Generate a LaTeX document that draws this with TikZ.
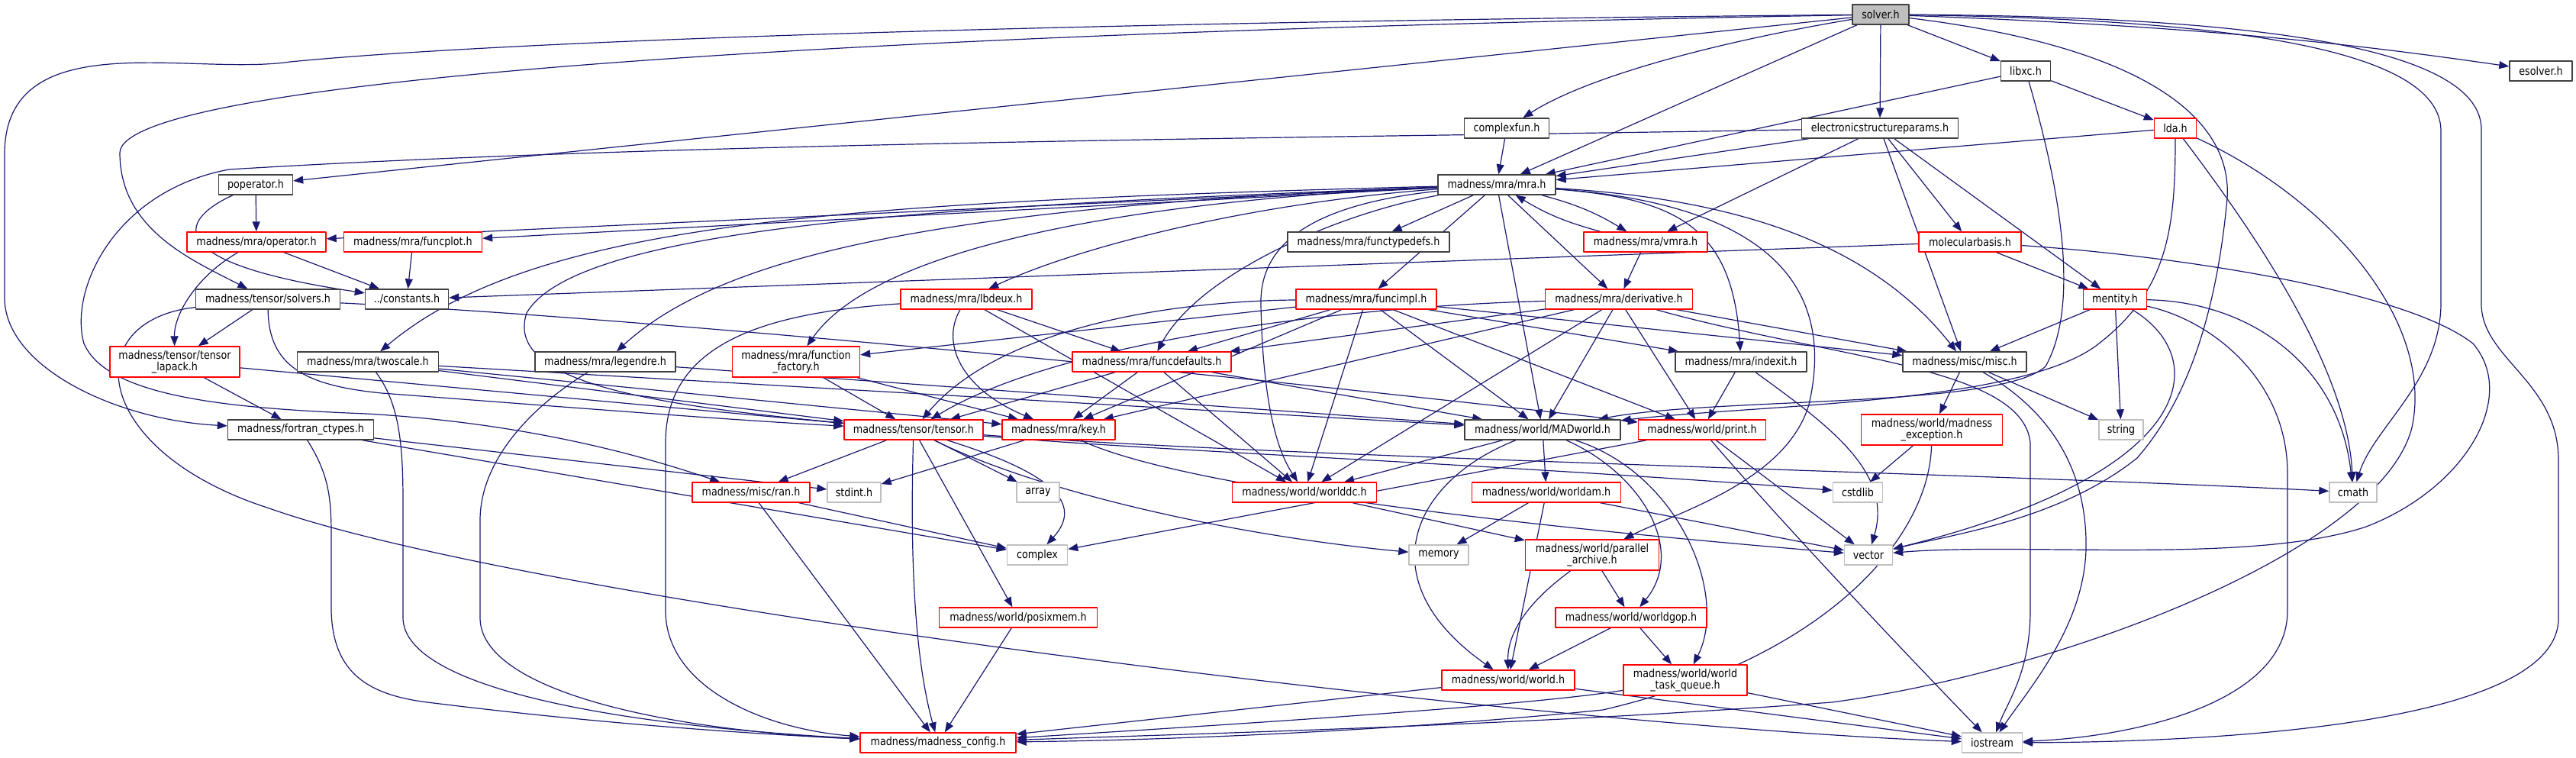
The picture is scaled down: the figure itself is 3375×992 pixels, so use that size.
\documentclass[tikz,border=0pt]{standalone}
\usepackage{fontspec}
\usepackage{tikz}
\usetikzlibrary{arrows.meta,backgrounds}
\newfontfamily\depfont{DejaVu Sans}[FakeStretch=0.86]
\definecolor{depedge}{HTML}{191970}
\definecolor{depred}{HTML}{FF0000}
\definecolor{depgray}{HTML}{BFBFBF}
\definecolor{depdark}{HTML}{404040}
\tikzset{
  every picture/.append style={line cap=round,line join=round},
  dep box/.style={draw=depdark,fill=white,line width=0.7pt,inner xsep=2pt,inner ysep=1pt,minimum height=13pt,font=\depfont\fontsize{7.4}{7.6}\selectfont,text=black},
  dep red/.style={dep box,draw=depred},
  dep sys/.style={dep box,draw=depgray},
  dep root/.style={dep box,fill=depgray},
  dep two/.style={align=center,minimum height=20pt},
  dep edge/.style={depedge,line width=0.6pt,-{Triangle[length=6.5pt,width=5pt]}}
}

\begin{document}
\begin{tikzpicture}[x=0.5pt,y=-0.5pt]
\useasboundingbox (0,0) rectangle (3375,992);
\node[dep root,minimum width=37pt] (solver) at (2464,19) {solver.h};
\node[dep box,minimum width=32.5pt] (libxc) at (2654,93) {libxc.h};
\node[dep box,minimum width=41pt] (esolver) at (3329,93) {esolver.h};
\node[dep box,minimum width=55.5pt] (complexfun) at (1974,168) {complexfun.h};
\node[dep box,minimum width=102.5pt] (esparams) at (2463,168) {electronicstructureparams.h};
\node[dep red,minimum width=27.5pt] (lda) at (2850,168) {lda.h};
\node[dep box,minimum width=48.5pt] (poperator) at (335,242) {poperator.h};
\node[dep box,minimum width=77pt] (mra) at (1961,242) {madness/mra/mra.h};
\node[dep red,minimum width=91pt] (operator) at (336,317) {madness/mra/operator.h};
\node[dep red,minimum width=90.5pt] (funcplot) at (541,317) {madness/mra/funcplot.h};
\node[dep box,minimum width=106pt] (functypedefs) at (1793,317) {madness/mra/functypedefs.h};
\node[dep red,minimum width=81pt] (vmra) at (2156,317) {madness/mra/vmra.h};
\node[dep red,minimum width=67pt] (molbasis) at (2581,317) {molecularbasis.h};
\node[dep box,minimum width=94.5pt] (solvers) at (351,392) {madness/tensor/solvers.h};
\node[dep box,minimum width=54.5pt] (constants) at (533,392) {../constants.h};
\node[dep red,minimum width=86pt] (lbdeux) at (1266,392) {madness/mra/lbdeux.h};
\node[dep red,minimum width=92pt] (funcimpl) at (1790,392) {madness/mra/funcimpl.h};
\node[dep red,minimum width=96.5pt] (derivative) at (2121,392) {madness/mra/derivative.h};
\node[dep red,minimum width=41.5pt] (mentity) at (2771,392) {mentity.h};
\node[dep red,dep two,minimum width=85pt] (tensorlapack) at (229,474) {madness/tensor/tensor\\\_lapack.h};
\node[dep box,minimum width=92.5pt] (twoscale) at (482,474) {madness/mra/twoscale.h};
\node[dep box,minimum width=92pt] (legendre) at (793,474) {madness/mra/legendre.h};
\node[dep red,dep two,minimum width=83.5pt] (funcfactory) at (1043,474) {madness/mra/function\\\_factory.h};
\node[dep red,minimum width=104pt] (funcdefaults) at (1509,474) {madness/mra/funcdefaults.h};
\node[dep box,minimum width=86pt] (indexit) at (2281,474) {madness/mra/indexit.h};
\node[dep box,minimum width=81pt] (misc) at (2574,474) {madness/misc/misc.h};
\node[dep box,minimum width=95.5pt] (fortran) at (394,563) {madness/fortran\_ctypes.h};
\node[dep red,minimum width=91pt] (tensor) at (1197,563) {madness/tensor/tensor.h};
\node[dep red,minimum width=74pt] (key) at (1387,563) {madness/mra/key.h};
\node[dep box,minimum width=102pt] (madworld) at (2021,563) {madness/world/MADworld.h};
\node[dep red,minimum width=83.5pt] (print) at (2230,563) {madness/world/print.h};
\node[dep red,dep two,minimum width=92.5pt] (exception) at (2531,563) {madness/world/madness\\\_exception.h};
\node[dep sys,minimum width=29pt] (string) at (2779,563) {string};
\node[dep red,minimum width=77pt] (ran) at (984,645) {madness/misc/ran.h};
\node[dep sys,minimum width=35pt] (stdint) at (1119,645) {stdint.h};
\node[dep sys,minimum width=28pt] (array) at (1360,645) {array};
\node[dep red,minimum width=94.5pt] (worlddc) at (1709,645) {madness/world/worlddc.h};
\node[dep red,minimum width=97.5pt] (worldam) at (2026,645) {madness/world/worldam.h};
\node[dep sys,minimum width=32.5pt] (cstdlib) at (2434,645) {cstdlib};
\node[dep sys,minimum width=31pt] (cmath) at (3083,645) {cmath};
\node[dep sys,minimum width=39.5pt] (complex) at (1359,727) {complex};
\node[dep sys,minimum width=39pt] (memory) at (1885,727) {memory};
\node[dep red,dep two,minimum width=87.5pt] (parallel) at (2086,727) {madness/world/parallel\\\_archive.h};
\node[dep sys,minimum width=31.5pt] (vector) at (2448,727) {vector};
\node[dep red,minimum width=103.5pt] (posixmem) at (1334,809) {madness/world/posixmem.h};
\node[dep red,minimum width=99pt] (worldgop) at (2137,809) {madness/world/worldgop.h};
\node[dep red,minimum width=87pt] (world) at (1976,891) {madness/world/world.h};
\node[dep red,dep two,minimum width=81pt] (taskqueue) at (2208,891) {madness/world/world\\\_task\_queue.h};
\node[dep red,minimum width=102pt] (config) at (1229,973) {madness/madness\_config.h};
\node[dep sys,minimum width=39.5pt] (iostream) at (2610,973) {iostream};

\begin{scope}[on background layer]
% solver.h
\draw[dep edge] (solver) -- (libxc);
\draw[dep edge] (solver) .. controls (2900,35) and (3100,60) .. (esolver);
\draw[dep edge] (solver) .. controls (2250,55) and (2080,100) .. (complexfun);
\draw[dep edge] (solver) -- (esparams);
\draw[dep edge] (solver) -- (mra);
\draw[dep edge] (solver) -- (poperator);
\draw[dep edge] (solver) .. controls (1000,45) and (160,110) .. (157,200) .. controls (157,300) and (250,340) .. (solvers);
\draw[dep edge] (solver) .. controls (1500,28) and (700,50) .. (380,81) .. controls (250,100) and (8,30) .. (6,200) -- (6,390) .. controls (6,480) and (150,550) .. (fortran);
\draw[dep edge] (solver) .. controls (2900,25) and (3195,60) .. (3198,170) -- (3198,400) .. controls (3196,500) and (3110,560) .. (cmath);
\draw[dep edge] (solver) .. controls (3050,22) and (3251,80) .. (3251,170) -- (3251,400) .. controls (3253,470) and (3350,500) .. (3352,600) -- (3352,810) .. controls (3352,950) and (2900,972) .. (iostream);
\draw[dep edge] (solver) .. controls (2800,60) and (2925,150) .. (2918,260) .. controls (2905,400) and (2870,520) .. (2800,600) .. controls (2700,680) and (2560,700) .. (vector);
% libxc.h, lda.h
\draw[dep edge] (libxc) -- (lda);
\draw[dep edge] (libxc) -- (mra);
\draw[dep edge] (libxc) .. controls (2700,250) and (2725,400) .. (2680,480) .. controls (2620,535) and (2250,520) .. (madworld);
\draw[dep edge] (lda) -- (mra);
\draw[dep edge] (lda) .. controls (2850,300) and (2840,380) .. (2750,450) .. controls (2650,530) and (2300,530) .. (madworld);
\draw[dep edge] (lda) .. controls (2950,300) and (3075,480) .. (cmath);
\draw[dep edge] (lda) .. controls (3050,260) and (3190,420) .. (3160,560) .. controls (3120,720) and (2700,880) .. (2400,920) .. controls (2000,950) and (1600,960) .. (config);
% electronicstructureparams.h
\draw[dep edge] (esparams) -- (mra);
\draw[dep edge] (esparams) -- (vmra);
\draw[dep edge] (esparams) -- (molbasis);
\draw[dep edge] (esparams) -- (mentity);
\draw[dep edge] (esparams) -- (misc);
\draw[dep edge] (esparams) .. controls (1800,180) and (900,185) .. (300,222) .. controls (150,250) and (90,380) .. (110,450) .. controls (140,520) and (300,535) .. (480,542) .. controls (700,555) and (850,600) .. (ran);
\draw[dep edge] (complexfun) -- (mra);
\draw[dep edge] (poperator) -- (operator);
\draw[dep edge] (poperator) .. controls (230,290) and (215,345) .. (constants);
% mra.h
\draw[dep edge] (mra) -- (operator);
\draw[dep edge] (mra) -- (funcplot);
\draw[dep edge] (mra) -- (functypedefs);
\draw[dep edge] (mra) to[bend left=8] (vmra);
\draw[dep edge] (vmra) to[bend left=8] (mra);
\draw[dep edge] (mra) .. controls (1100,265) and (700,290) .. (twoscale);
\draw[dep edge] (mra) .. controls (1250,270) and (950,330) .. (legendre);
\draw[dep edge] (mra) .. controls (1650,265) and (1420,320) .. (lbdeux);
\draw[dep edge] (mra) .. controls (1500,262) and (1150,320) .. (funcfactory);
\draw[dep edge] (mra) .. controls (1750,280) and (1570,360) .. (funcdefaults);
\draw[dep edge] (mra) -- (funcimpl);
\draw[dep edge] (mra) -- (derivative);
\draw[dep edge] (mra) .. controls (2200,260) and (2270,300) .. (indexit);
\draw[dep edge] (mra) .. controls (2300,262) and (2460,330) .. (misc);
\draw[dep edge] (mra) .. controls (1300,268) and (760,290) .. (690,410) .. controls (660,500) and (850,530) .. (tensor);
\draw[dep edge] (mra) -- (madworld);
\draw[dep edge] (mra) .. controls (1700,270) and (1650,330) .. (1652,400) .. controls (1655,550) and (1680,600) .. (worlddc);
\draw[dep edge] (mra) .. controls (2350,270) and (2400,400) .. (2370,530) .. controls (2340,630) and (2200,670) .. (parallel);
\draw[dep edge] (vmra) -- (derivative);
% molecularbasis.h
\draw[dep edge] (molbasis) -- (mentity);
\draw[dep edge] (molbasis) -- (constants);
\draw[dep edge] (molbasis) .. controls (2850,335) and (3150,380) .. (3240,450) .. controls (3300,520) and (3230,640) .. (3100,690) .. controls (2950,740) and (2650,710) .. (vector);
% solvers.h
\draw[dep edge] (solvers) -- (tensorlapack);
\draw[dep edge] (solvers) .. controls (352,480) and (400,505) .. (500,515) .. controls (700,530) and (950,550) .. (tensor);
\draw[dep edge] (solvers) .. controls (900,420) and (1700,500) .. (print);
\draw[dep edge] (solvers) .. controls (100,420) and (120,590) .. (350,665) .. controls (700,790) and (2000,950) .. (iostream);
\draw[dep edge] (operator) -- (constants);
\draw[dep edge] (operator) .. controls (260,360) and (228,410) .. (tensorlapack);
\draw[dep edge] (funcplot) -- (constants);
% lbdeux.h
\draw[dep edge] (lbdeux) -- (funcdefaults);
\draw[dep edge] (lbdeux) .. controls (1232,450) and (1260,510) .. (key);
\draw[dep edge] (lbdeux) -- (worlddc);
\draw[dep edge] (lbdeux) .. controls (1000,410) and (872,450) .. (872,580) -- (872,800) .. controls (872,900) and (1000,955) .. (config);
% funcimpl.h
\draw[dep edge] (funcimpl) -- (funcfactory);
\draw[dep edge] (funcimpl) -- (funcdefaults);
\draw[dep edge] (funcimpl) -- (key);
\draw[dep edge] (funcimpl) .. controls (1500,395) and (1300,440) .. (tensor);
\draw[dep edge] (funcimpl) -- (indexit);
\draw[dep edge] (funcimpl) -- (misc);
\draw[dep edge] (funcimpl) -- (madworld);
\draw[dep edge] (funcimpl) -- (print);
\draw[dep edge] (funcimpl) -- (worlddc);
% derivative.h
\draw[dep edge] (derivative) -- (funcdefaults);
\draw[dep edge] (derivative) -- (key);
\draw[dep edge] (derivative) .. controls (1800,400) and (1400,440) .. (tensor);
\draw[dep edge] (derivative) -- (madworld);
\draw[dep edge] (derivative) -- (print);
\draw[dep edge] (derivative) -- (misc);
\draw[dep edge] (derivative) -- (worlddc);
\draw[dep edge] (derivative) .. controls (2400,470) and (2650,480) .. (2660,580) -- (2660,800) .. controls (2660,880) and (2630,920) .. (iostream);
% mentity.h, misc.h
\draw[dep edge] (mentity) -- (misc);
\draw[dep edge] (mentity) -- (string);
\draw[dep edge] (mentity) .. controls (2950,395) and (3065,480) .. (cmath);
\draw[dep edge] (mentity) .. controls (2900,470) and (2880,620) .. (vector);
\draw[dep edge] (mentity) .. controls (2900,420) and (2997,500) .. (2997,620) -- (2997,800) .. controls (2997,920) and (2800,965) .. (iostream);
\draw[dep edge] (misc) -- (exception);
\draw[dep edge] (misc) -- (string);
\draw[dep edge] (misc) .. controls (2690,540) and (2735,620) .. (2733,720) .. controls (2730,820) and (2660,900) .. (iostream);
\draw[dep edge] (exception) -- (cstdlib);
\draw[dep edge] (exception) .. controls (2528,700) and (2400,860) .. (2100,930) .. controls (1800,960) and (1500,970) .. (config);
% tensor_lapack.h, twoscale.h, legendre.h
\draw[dep edge] (tensorlapack) -- (fortran);
\draw[dep edge] (tensorlapack) -- (tensor);
\draw[dep edge] (twoscale) -- (tensor);
\draw[dep edge] (twoscale) -- (key);
\draw[dep edge] (twoscale) -- (madworld);
\draw[dep edge] (twoscale) .. controls (525,530) and (528,590) .. (528,660) -- (528,810) .. controls (530,900) and (800,950) .. (config);
\draw[dep edge] (legendre) -- (madworld);
\draw[dep edge] (legendre) .. controls (700,530) and (630,600) .. (629,680) -- (629,810) .. controls (630,900) and (850,955) .. (config);
\draw[dep edge] (funcfactory) -- (tensor);
\draw[dep edge] (funcfactory) -- (key);
\draw[dep edge] (funcdefaults) -- (tensor);
\draw[dep edge] (funcdefaults) -- (key);
\draw[dep edge] (funcdefaults) -- (madworld);
\draw[dep edge] (funcdefaults) -- (worlddc);
\draw[dep edge] (indexit) -- (print);
\draw[dep edge] (indexit) .. controls (2400,560) and (2480,620) .. (vector);
% fortran_ctypes.h
\draw[dep edge] (fortran) -- (stdint);
\draw[dep edge] (fortran) -- (complex);
\draw[dep edge] (fortran) .. controls (430,620) and (434,650) .. (434,700) -- (434,800) .. controls (436,880) and (480,910) .. (560,920) .. controls (800,950) and (1000,962) .. (config);
% tensor.h, key.h
\draw[dep edge] (tensor) -- (ran);
\draw[dep edge] (tensor) -- (array);
\draw[dep edge] (tensor) .. controls (1193,700) and (1195,850) .. (config);
\draw[dep edge] (tensor) -- (posixmem);
\draw[dep edge] (tensor) .. controls (1380,620) and (1420,660) .. (complex);
\draw[dep edge] (tensor) .. controls (1350,640) and (1600,700) .. (memory);
\draw[dep edge] (tensor) .. controls (1500,590) and (2000,610) .. (cstdlib);
\draw[dep edge] (tensor) .. controls (1700,600) and (2600,620) .. (cmath);
\draw[dep edge] (key) -- (stdint);
\draw[dep edge] (key) .. controls (1550,640) and (2000,690) .. (vector);
% world
\draw[dep edge] (madworld) -- (worlddc);
\draw[dep edge] (madworld) -- (worldam);
\draw[dep edge] (madworld) .. controls (1850,630) and (1790,760) .. (world);
\draw[dep edge] (madworld) .. controls (2150,620) and (2210,720) .. (worldgop);
\draw[dep edge] (madworld) .. controls (2200,620) and (2265,780) .. (taskqueue);
\draw[dep edge] (print) -- (complex);
\draw[dep edge] (print) -- (vector);
\draw[dep edge] (print) .. controls (2330,680) and (2500,860) .. (iostream);
\draw[dep edge] (worldam) -- (memory);
\draw[dep edge] (worldam) -- (world);
\draw[dep edge] (worldam) -- (vector);
\draw[dep edge] (worlddc) -- (parallel);
\draw[dep edge] (parallel) -- (worldgop);
\draw[dep edge] (parallel) .. controls (2000,790) and (1975,830) .. (world);
\draw[dep edge] (worldgop) -- (world);
\draw[dep edge] (worldgop) -- (taskqueue);
\draw[dep edge] (world) -- (config);
\draw[dep edge] (world) -- (iostream);
\draw[dep edge] (taskqueue) .. controls (2000,925) and (1600,950) .. (config);
\draw[dep edge] (taskqueue) -- (iostream);
\draw[dep edge] (posixmem) -- (config);
\draw[dep edge] (ran) -- (config);
\draw[dep edge] (ran) -- (complex);
\end{scope}
\end{tikzpicture}
\end{document}
